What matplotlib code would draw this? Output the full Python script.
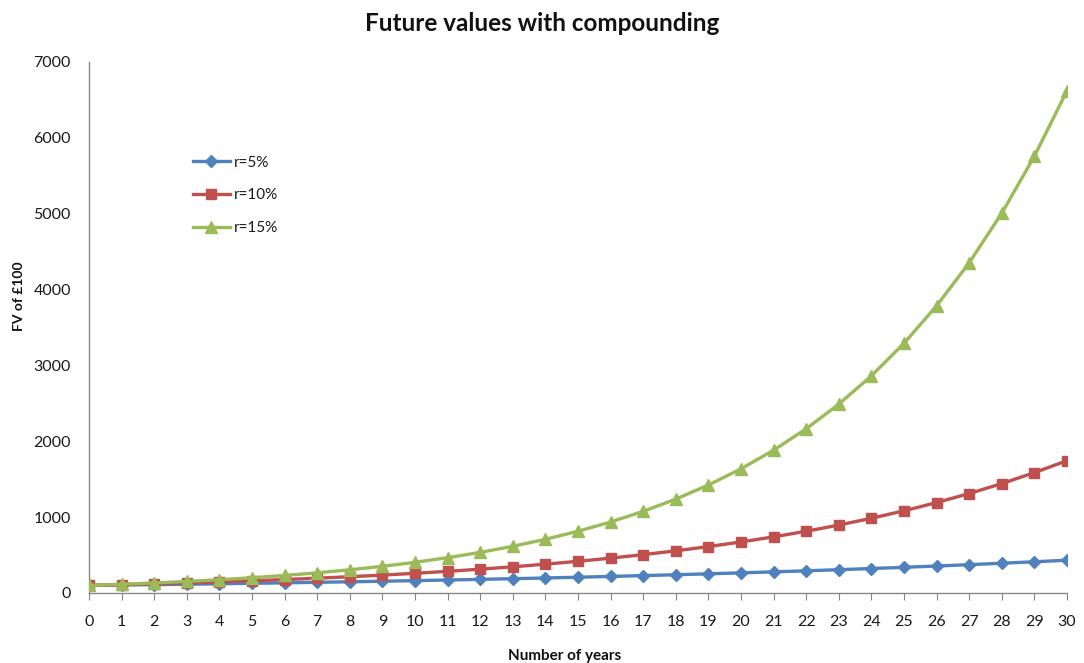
import matplotlib
matplotlib.use("Agg")
import matplotlib.pyplot as plt

plt.rcParams['font.family'] = ['Lato', 'DejaVu Sans']

years = list(range(0, 31))
fv_5 = [100.00, 105.00, 110.25, 115.76, 121.55, 127.63, 134.01, 140.71, 147.75, 155.13,
        162.89, 171.03, 179.59, 188.56, 197.99, 207.89, 218.29, 229.20, 240.66, 252.70,
        265.33, 278.60, 292.53, 307.15, 322.51, 338.64, 355.57, 373.35, 392.01, 411.61,
        432.19]
fv_10 = [100.00, 110.00, 121.00, 133.10, 146.41, 161.05, 177.16, 194.87, 214.36, 235.79,
         259.37, 285.31, 313.84, 345.23, 379.75, 417.72, 459.50, 505.45, 556.00, 611.59,
         672.75, 740.02, 814.03, 895.43, 984.97, 1083.47, 1191.82, 1311.00, 1442.10, 1586.31,
         1744.94]
fv_15 = [100.00, 115.00, 132.25, 152.09, 174.90, 201.14, 231.31, 266.00, 305.90, 351.79,
         404.56, 465.24, 535.03, 615.28, 707.57, 813.70, 935.76, 1076.12, 1237.54, 1423.17,
         1636.65, 1882.15, 2164.47, 2489.15, 2862.52, 3291.90, 3785.68, 4353.53, 5006.56, 5757.55,
         6621.18]
labels = ["r=5%", "r=10%", "r=15%"]
y_ticks = [0, 1000, 2000, 3000, 4000, 5000, 6000, 7000]

fig = plt.figure(figsize=(10.84, 6.63), dpi=100)
ax = fig.add_axes([0.0821, 0.1056, 0.9022, 0.8009])

ax.plot(years, fv_5, color="#4F81BD", lw=2.4, marker="D", ms=6.5, label=labels[0], zorder=3)
ax.plot(years, fv_10, color="#C0504D", lw=2.4, marker="s", ms=7.5, label=labels[1], zorder=3)
ax.plot(years, fv_15, color="#9BBB59", lw=2.4, marker="^", ms=8.5, label=labels[2], zorder=3)

ax.set_xlim(0, 30)
ax.set_ylim(0, 7000)
ax.set_xticks(years)
ax.set_yticks(y_ticks)

for side in ("top", "right"):
    ax.spines[side].set_visible(False)
for side in ("left", "bottom"):
    ax.spines[side].set_color("#868686")
    ax.spines[side].set_linewidth(1.0)

ax.tick_params(axis="x", length=5, width=0.8, color="#868686", pad=11,
               labelsize=11.5, labelcolor="#1a1a1a", direction="out")
ax.tick_params(axis="y", length=0, pad=13, labelsize=11.5, labelcolor="#1a1a1a")

fig.text(0.5, 0.965, "Future values with compounding", ha="center", va="center",
         fontsize=17.5, fontweight="bold", color="#111111")
fig.text(0.0175, 0.553, "FV of £100", ha="center", va="center", rotation=90,
         fontsize=10, fontweight="bold", color="#111111")
fig.text(0.521, 0.011, "Number of years", ha="center", va="center",
         fontsize=11, fontweight="bold", color="#111111")

fig.legend(loc="upper left", bbox_to_anchor=(0.178, 0.765), frameon=False,
           fontsize=11, handlelength=2.4, handletextpad=0.25, labelspacing=1.22,
           borderpad=0, borderaxespad=0, labelcolor="#1a1a1a")

fig.savefig("out.png", dpi=100)
